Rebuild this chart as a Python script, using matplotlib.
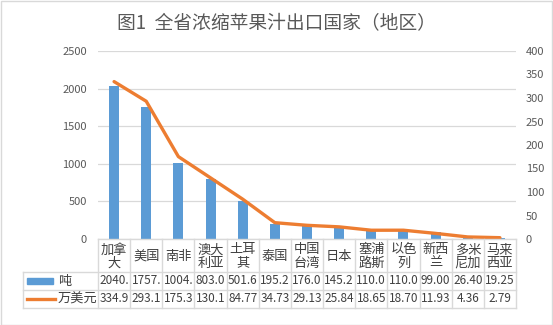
import matplotlib.pyplot as plt
from matplotlib.patches import Rectangle
from matplotlib.lines import Line2D

plt.rcParams['font.family'] = ['Noto Sans CJK SC', 'DejaVu Sans']

title = "图1  全省浓缩苹果汁出口国家（地区）"
countries = ["加拿\n大", "美国", "南非", "澳大\n利亚", "土耳\n其", "泰国", "中国\n台湾",
             "日本", "塞浦\n路斯", "以色\n列", "新西\n兰", "多米\n尼加", "马来\n西亚"]
tons = [2040.0, 1757.0, 1004.0, 803.0, 501.6, 195.2, 176.0, 145.2, 110.0, 110.0, 99.0, 26.4, 19.25]
usd = [334.9, 293.1, 175.3, 130.1, 84.77, 34.73, 29.13, 25.84, 18.65, 18.70, 11.93, 4.36, 2.79]
series_names = ["吨", "万美元"]

blue = "#5B9BD5"
orange = "#ED7D31"
grid_c = "#D9D9D9"
txt_c = "#404040"
tick_c = "#595959"

W, H = 553, 325
fig = plt.figure(figsize=(W / 100, H / 100), dpi=100)

# plot area in pixels
left, right, top, bottom = 98, 516, 51, 239
ax = fig.add_axes([left / W, 1 - bottom / H, (right - left) / W, (bottom - top) / H])
ax2 = ax.twinx()

x = list(range(len(countries)))
ax.bar(x, tons, width=0.31, color=blue, zorder=2)
ax2.plot(x, usd, color=orange, linewidth=2.4, solid_capstyle='round', zorder=3)

ax.set_xlim(-0.5, len(countries) - 0.5)
ax.set_ylim(0, 2500)
ax.set_yticks(range(0, 2501, 500))
ax2.set_ylim(0, 400)
ax2.set_yticks(range(0, 401, 50))
ax.set_xticks([])
ax.yaxis.grid(True, color=grid_c, linewidth=0.9)
ax.set_axisbelow(True)
for a in (ax, ax2):
    for s in a.spines.values():
        s.set_visible(False)
    a.tick_params(axis='y', length=0, labelsize=8, labelcolor=tick_c)
ax.tick_params(axis='y', pad=8)
ax2.tick_params(axis='y', pad=7)

fig.text(0.5, 1 - 23 / H, title, ha='center', va='center', fontsize=13.5, color=tick_c)

# data table under the plot, drawn in pixel coordinates
def px(xp, yp):
    return xp / W, 1 - yp / H

col_w = (right - left) / len(countries)
rows = [239, 272, 290, 308]
tab_left = 23

def hline(x0, x1, y):
    fig.add_artist(Line2D([x0 / W, x1 / W], [1 - y / H, 1 - y / H], color=grid_c, linewidth=1))

def vline(xp, y0, y1):
    fig.add_artist(Line2D([xp / W, xp / W], [1 - y0 / H, 1 - y1 / H], color=grid_c, linewidth=1))

hline(left, right, rows[0])
for y in rows[1:]:
    hline(tab_left, right, y)
vline(tab_left, rows[1], rows[3])
for i in range(len(countries) + 1):
    vline(left + i * col_w, rows[0], rows[3])

for i, name in enumerate(countries):
    cx = left + (i + 0.5) * col_w
    fig.text(*px(cx, (rows[0] + rows[1]) / 2 + 1), name, ha='center', va='center',
             fontsize=9.5, color=txt_c, linespacing=1.0)
    fig.text(*px(cx, (rows[1] + rows[2]) / 2), f"{tons[i]:.2f}"[:5], ha='center', va='center',
             fontsize=8.5, color=txt_c)
    fig.text(*px(cx, (rows[2] + rows[3]) / 2), f"{usd[i]:.2f}"[:5], ha='center', va='center',
             fontsize=8.5, color=txt_c)

# legend keys inside the table
y1 = (rows[1] + rows[2]) / 2
y2 = (rows[2] + rows[3]) / 2
fig.add_artist(Rectangle(px(27, y1 + 3), 26 / W, 6 / H, color=blue))
fig.add_artist(Line2D([27 / W, 55 / W], [1 - y2 / H, 1 - y2 / H], color=orange, linewidth=2.4))
fig.text(*px(58, y1), series_names[0], ha='left', va='center', fontsize=9.5, color=txt_c)
fig.text(*px(58, y2), series_names[1], ha='left', va='center', fontsize=9.5, color=txt_c)

# outer frame
fig.add_artist(Rectangle((0.5 / W, 0.5 / H), (W - 1.5) / W, (H - 1.5) / H, fill=False,
                         edgecolor=grid_c, linewidth=1))

fig.savefig("out.png", dpi=100)
